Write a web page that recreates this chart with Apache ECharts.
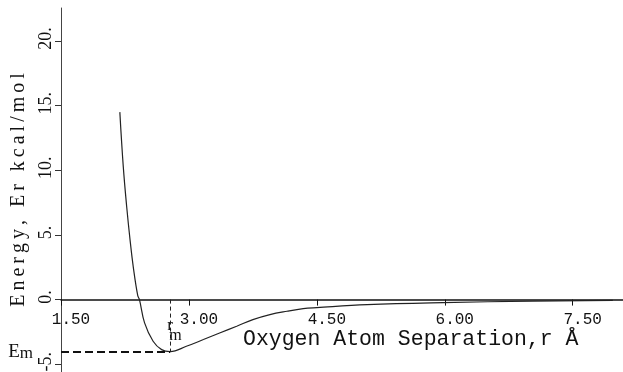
<!DOCTYPE html>
<html>
<head>
<meta charset="utf-8">
<script src="https://cdn.jsdelivr.net/npm/echarts@6/dist/echarts.min.js"></script>
<style>
  html, body { margin: 0; padding: 0; background: #fff; }
  #chart { width: 623px; height: 372px; }
</style>
</head>
<body>
<div id="chart"></div>
<script>
// oxygen-oxygen separation (Angstrom) and interaction energy (kcal/mol)
const separation = [2.19, 2.23, 2.27, 2.31, 2.35, 2.40, 2.42, 2.48, 2.58, 2.68, 2.78,
  2.97, 3.17, 3.36, 3.56, 3.75, 3.95, 4.15, 4.34, 4.50, 5.09, 5.98, 7.03, 7.97];
const energy = [14.5, 10.3, 7.2, 4.6, 2.4, 0.3, 0, -1.8, -3.22, -3.87, -4.02,
  -3.61, -3.09, -2.58, -2.06, -1.55, -1.16, -0.90, -0.70, -0.62, -0.39, -0.23, -0.12, -0.06];
const xTicks = [1.5, 3, 4.5, 6, 7.5];
const yTicks = [-5, 0, 5, 10, 15, 20];
const rMin = 2.78;
const eMin = -4.02;

const serif = '"Liberation Serif", "DejaVu Serif", serif';
const mono = '"Liberation Mono", "DejaVu Sans Mono", monospace';
const spaced = (s) => s.split('').join('\u2009');

const chart = echarts.init(document.getElementById('chart'));
chart.setOption({
  animation: false,
  grid: { left: 61, right: 0, top: 8, bottom: 0, outerBoundsMode: 'none' },
  xAxis: {
    type: 'value',
    min: 1.5,
    max: 8.09,
    // the x axis sits on E = 0; offset is set below once the y scale is known
    axisLine: { onZero: false, lineStyle: { color: '#111', width: 1.5 } },
    axisTick: { show: true, customValues: xTicks, length: 6, lineStyle: { color: '#111' } },
    axisLabel: {
      customValues: xTicks,
      formatter: (v) => Number(v).toFixed(2),
      fontFamily: mono,
      fontSize: 16,
      color: '#111',
      margin: 12,
      padding: [0, 0, 0, 20],
    },
    splitLine: { show: false },
  },
  yAxis: {
    type: 'value',
    min: -5.6,
    max: 22.55,
    name: spaced('Energy, Er kcal/mol'),
    nameLocation: 'middle',
    nameRotate: 90,
    nameGap: 23,
    nameTextStyle: { fontFamily: serif, fontSize: 20, color: '#111' },
    axisLine: { show: true, lineStyle: { color: '#444', width: 1 } },
    axisTick: { show: true, customValues: yTicks, length: 6, lineStyle: { color: '#333' } },
    axisLabel: {
      customValues: yTicks,
      rotate: 90,
      formatter: (v) => v + '.',
      fontFamily: serif,
      fontSize: 18,
      color: '#111',
      margin: 6,
      padding: [0, 0, 0, 5],
    },
    splitLine: { show: false },
  },
  graphic: [{
    type: 'text',
    left: 243,
    top: 328,
    style: {
      text: 'Oxygen Atom Separation,r Å',
      font: '21.5px ' + mono,
      fill: '#111',
    },
  }],
  series: [{
    type: 'line',
    data: separation.map((r, i) => [r, energy[i]]),
    symbol: 'none',
    smooth: 0.4,
    lineStyle: { color: '#222', width: 1.2 },
    markLine: {
      silent: true,
      symbol: 'none',
      label: { show: false },
      data: [
        [
          { coord: [1.5, eMin], lineStyle: { type: [8, 4], width: 2, color: '#111' } },
          { coord: [rMin, eMin], lineStyle: { type: [8, 4], width: 2, color: '#111' } },
        ],
        [
          { coord: [rMin, 0], lineStyle: { type: [4, 3], width: 1, color: '#222' } },
          { coord: [rMin, eMin], lineStyle: { type: [4, 3], width: 1, color: '#222' } },
        ],
      ],
    },
    markPoint: {
      silent: true,
      symbol: 'circle',
      symbolSize: 0,
      data: [
        {
          coord: [1.5, eMin],
          label: {
            show: true,
            position: 'left',
            distance: 28,
            formatter: '{e|E}{s|m}',
            rich: {
              e: { fontFamily: serif, fontSize: 19, color: '#111' },
              s: { fontFamily: serif, fontSize: 17, color: '#111', padding: [4, 0, 0, 0] },
            },
          },
        },
        {
          coord: [rMin, eMin * 0.6],
          label: {
            show: true,
            position: 'inside',
            align: 'left',
            offset: [-3, 0],
            formatter: '{r|r}\n{m|m}',
            rich: {
              r: { fontFamily: serif, fontSize: 17, lineHeight: 10, color: '#111' },
              m: { fontFamily: serif, fontSize: 16, lineHeight: 11, color: '#111', padding: [0, 0, 0, 2] },
            },
          },
        },
      ],
    },
  }],
});

// move the x axis (line, ticks, labels) up to E = 0
const zeroY = chart.convertToPixel({ yAxisIndex: 0 }, 0);
const gridBottom = chart.getHeight();
chart.setOption({ xAxis: { offset: zeroY - gridBottom } });
</script>
</body>
</html>
